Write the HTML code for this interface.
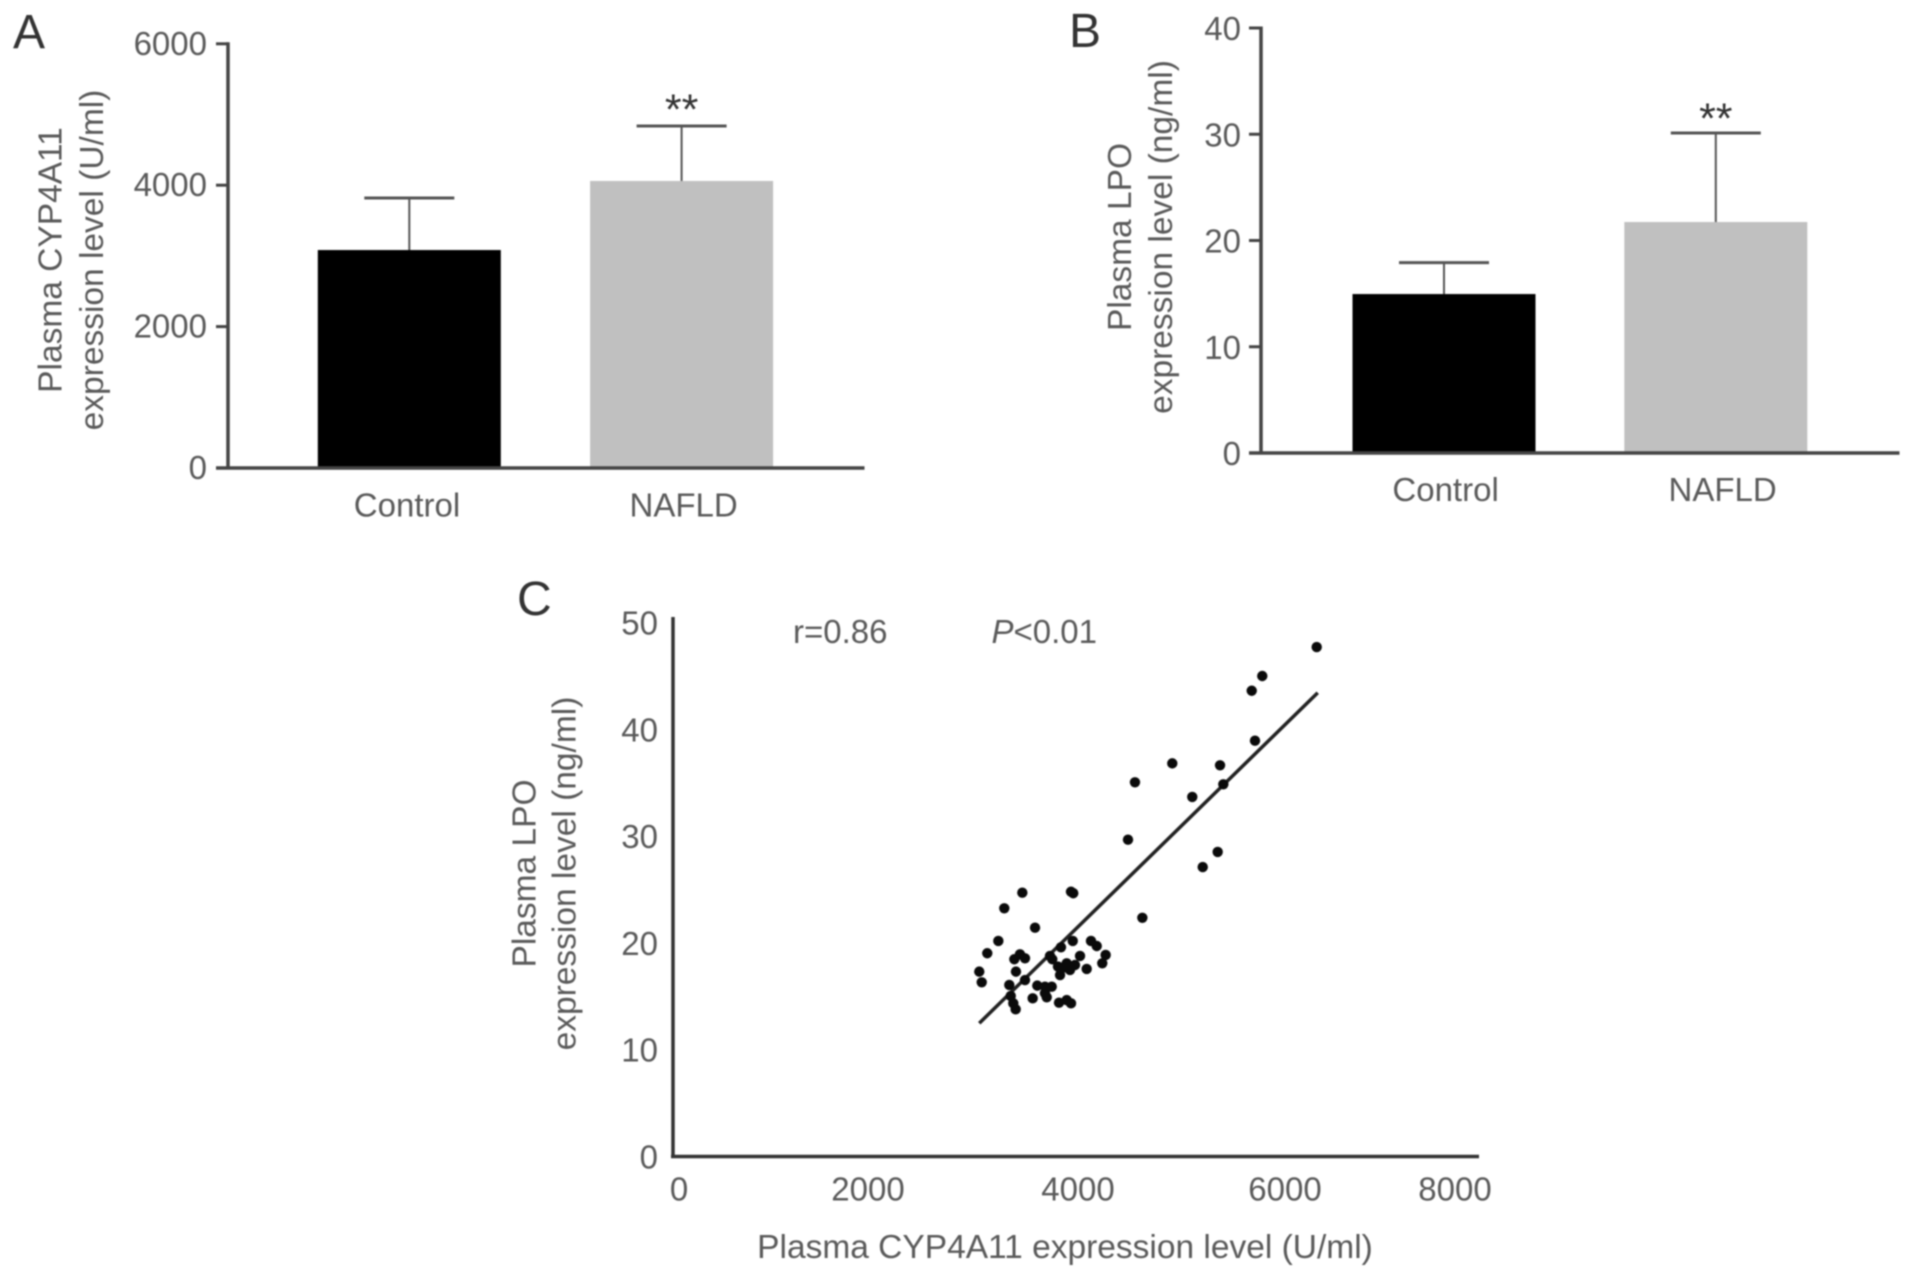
<!DOCTYPE html>
<html lang="en">
<head>
<meta charset="utf-8">
<title>Plasma CYP4A11 and LPO expression</title>
<style>
  html, body { margin: 0; padding: 0; background: #fff; }
  #figure { display: block; width: 1913px; height: 1279px; filter: blur(0.8px); }
  text { font-family: "Liberation Sans", sans-serif; fill: #5a5a5a; }
</style>
</head>
<body>
<svg id="figure" xmlns="http://www.w3.org/2000/svg" width="1913" height="1279" viewBox="0 0 1913 1279"></svg>
<script>
// Panel A data
const categoriesA = ["Control", "NAFLD"];
const meansA = [3083, 4060];
const errorsA = [736, 777];
const sigA = ["", "**"];
const ticksA = [0, 2000, 4000, 6000];

// Panel B data
const categoriesB = ["Control", "NAFLD"];
const meansB = [14.96, 21.74];
const errorsB = [2.96, 8.38];
const sigB = ["", "**"];
const ticksB = [0, 10, 20, 30, 40];

// Panel C data
const scatterX = [3408, 3232, 3883, 3905, 3532, 3174, 3066, 2988, 3012, 4579, 5168, 3900, 3785, 4078, 4134, 4221, 4188, 3971, 4036, 3922, 3873, 3841, 3824, 3776, 3756, 3700, 3678, 3434, 3385, 3330, 3346, 3434, 3281, 3295, 3320, 3343, 3554, 3629, 3695, 3629, 3646, 3509, 3766, 3841, 3883, 6280, 5749, 5646, 5678, 4871, 5337, 4507, 5369, 5066, 4439, 5314];
const scatterY = [24.70, 23.24, 24.79, 24.65, 21.42, 20.18, 19.03, 17.31, 16.31, 22.35, 27.10, 20.18, 19.59, 20.18, 19.71, 18.87, 18.09, 18.78, 17.56, 17.93, 17.47, 18.09, 17.72, 16.99, 17.78, 18.47, 18.78, 18.56, 18.93, 18.47, 17.31, 16.52, 16.06, 15.03, 14.34, 13.78, 16.0, 15.9, 15.9, 15.28, 14.91, 14.81, 14.40, 14.65, 14.34, 47.70, 44.99, 43.61, 38.93, 36.81, 36.63, 35.04, 34.85, 33.67, 29.66, 28.52];
const trendX = [2988, 6290];
const trendY = [12.48, 43.42];
const ticksCY = [0, 10, 20, 30, 40, 50];
const ticksCX = [0, 2000, 4000, 6000, 8000];

const svg = document.getElementById('figure');
const NS = 'http://www.w3.org/2000/svg';
const AXIS = '#444';

function make(tag, attrs, content) {
  const node = document.createElementNS(NS, tag);
  for (const key in attrs) node.setAttribute(key, attrs[key]);
  if (content !== undefined) node.textContent = content;
  svg.appendChild(node);
  return node;
}

function line(x1, y1, x2, y2, color, width) {
  return make('line', { x1: x1, y1: y1, x2: x2, y2: y2, stroke: color, 'stroke-width': width });
}

function label(str, x, y, size, anchor, extra) {
  return make('text', Object.assign({ x: x, y: y, 'font-size': size, 'text-anchor': anchor }, extra || {}), str);
}

function rotatedLabel(str, x, y) {
  return label(str, x, y, 33.5, 'middle', { transform: 'rotate(-90 ' + x + ' ' + y + ')' });
}

function drawBarPanel(p) {
  const y = function (v) { return p.y0 - v * p.pxPerUnit; };
  const fills = ['#000000', '#c0c0c0'];
  p.means.forEach(function (m, i) {
    const cx = p.center0 + i * p.step;
    const top = y(m);
    const capY = y(m + p.errors[i]);
    const bar = make('rect', { x: cx - p.barW / 2, y: top, width: p.barW, height: p.y0 - top, fill: fills[i] });
    
    
    const stem = line(cx, top, cx, capY, '#555', 2);
    
    
    const cap = line(cx - p.capW / 2, capY, cx + p.capW / 2, capY, '#555', 3);
    
    
    if (p.sig[i]) {
      const star = label(p.sig[i], cx, capY + p.starGap, 43, 'middle', { style: 'fill:#333' });
      
      
    }
    const cat = label(p.categories[i], p.labelCenter0 + i * p.labelStep, p.catBase, 33, 'middle');
    
    
  });
  const yAxis = line(p.axisX, y(p.ticks[p.ticks.length - 1]) - 1.5, p.axisX, p.y0 + 1.5, AXIS, 3.5);
  
  
  const xAxis = line(p.axisX - 12, p.y0, p.axisEnd, p.y0, AXIS, 3.5);
  
  
  p.ticks.forEach(function (t) {
    const tick = line(p.axisX - 12, y(t), p.axisX, y(t), AXIS, 3);
    
    
    const text = label(String(t), p.tickRight, y(t) + p.tickBase, 33, 'end');
    
    
  });
}

drawBarPanel({
  id: 'panel-a', categories: categoriesA, means: meansA, errors: errorsA, sig: sigA, ticks: ticksA,
  y0: 468, pxPerUnit: 0.0707, center0: 409.3, step: 272.3, barW: 183, capW: 90, starGap: -2,
  labelCenter0: 407, labelStep: 276.6, catBase: 516.5, axisX: 228, axisEnd: 864.5, tickRight: 207, tickBase: 11
});

drawBarPanel({
  id: 'panel-b', categories: categoriesB, means: meansB, errors: errorsB, sig: sigB, ticks: ticksB,
  y0: 453, pxPerUnit: 10.625, center0: 1444, step: 271.8, barW: 183, capW: 90, starGap: 0,
  labelCenter0: 1445.6, labelStep: 277, catBase: 500.8, axisX: 1261, axisEnd: 1899.5, tickRight: 1241, tickBase: 12
});

// Panel C axes
const xC = function (v) { return 673 + v * 0.1025; };
const yC = function (v) { return 1156.5 - v * 10.68; };
const xTickNudge = [6, -10, -5, -3, -38];

const trend = line(xC(trendX[0]), yC(trendY[0]), xC(trendX[1]), yC(trendY[1]), '#222', 3.5);



scatterX.forEach(function (vx, i) {
  const dot = make('circle', { cx: xC(vx), cy: yC(scatterY[i]), r: 5.2, fill: '#0a0a0a' });
  
  
});

const yAxisC = line(673, 617, 673, 1158, '#333', 3.5);


const xAxisC = line(671, 1156.5, 1479, 1156.5, '#333', 3.5);



ticksCY.forEach(function (t) {
  const text = label(String(t), 658, yC(t) + 12, 33, 'end');
  
  
});
ticksCX.forEach(function (t, i) {
  const text = label(String(t), xC(t) + xTickNudge[i], 1200.5, 33, 'middle');
  
  
});

const titleA1 = rotatedLabel('Plasma CYP4A11', 61.5, 260);


const titleA2 = rotatedLabel('expression level (U/ml)', 103, 260);


const titleB1 = rotatedLabel('Plasma LPO', 1131, 237);


const titleB2 = rotatedLabel('expression level (ng/ml)', 1172, 237);


const titleC1 = rotatedLabel('Plasma LPO', 535.5, 873.5);


const titleC2 = rotatedLabel('expression level (ng/ml)', 575.5, 873.5);


const titleCX = label('Plasma CYP4A11 expression level (U/ml)', 1065, 1258, 33.5, 'middle');



const statR = label('r=0.86', 793, 643, 33, 'start');


const statP = make('text', { x: 991.5, y: 643, 'font-size': 33 });
statP.innerHTML = '<tspan font-style="italic">P</tspan>&lt;0.01';



const letterA = label('A', 13, 48, 48, 'start', { style: 'fill:#333' });


const letterB = label('B', 1069, 47, 48, 'start', { style: 'fill:#333' });


const letterC = label('C', 517, 615, 48, 'start', { style: 'fill:#333' });


</script>
</body>
</html>
